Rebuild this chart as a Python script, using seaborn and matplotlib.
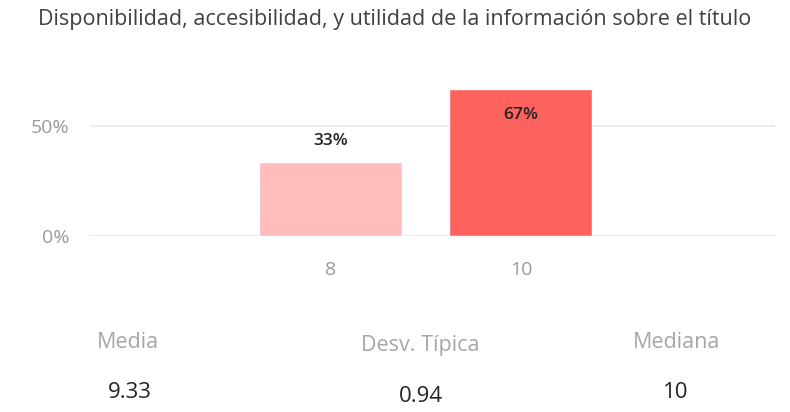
import matplotlib
matplotlib.use("Agg")
import matplotlib.pyplot as plt
import seaborn as sns
import pandas as pd
from matplotlib.ticker import PercentFormatter

# data
categories = ['8', '10']
shares = [0.336, 0.668]
bar_colors = ['#FFBCBC', '#FD625E']
value_labels = ['33%', '67%']

stat_names = ['Media', 'Desv. Típica', 'Mediana']
stat_values = ['9.33', '0.94', '10']

df = pd.DataFrame({'cat': categories, 'share': shares})

sns.set_theme(style="white")
plt.rcParams['font.family'] = ['Open Sans', 'DejaVu Sans']

fig = plt.figure(figsize=(7.9, 4.12), dpi=100)
ax = fig.add_axes([90 / 790, 1 - 236 / 412, 685 / 790, 166 / 412])

sns.barplot(data=df, x='cat', y='share', hue='cat', order=categories,
            palette=bar_colors, legend=False, width=0.753, saturation=1, ax=ax)

ax.set_xlim(-1.268, 2.337)
ax.set_ylim(0, 0.7545)
ax.set_yticks([0, 0.5])
ax.yaxis.set_major_formatter(PercentFormatter(1.0, decimals=0))
ax.grid(axis='y', color='#E9E9E9', linewidth=1.2)
ax.set_axisbelow(True)
for s in ax.spines.values():
    s.set_visible(False)
ax.set_xlabel('')
ax.set_ylabel('')
ax.tick_params(axis='y', colors='#999999', labelsize=14, length=0, pad=15)
ax.tick_params(axis='x', colors='#999999', labelsize=14, length=0, pad=18)

# data labels: above the short bar, inside the tall one
for i, (v, lab) in enumerate(zip(shares, value_labels)):
    off = -19 if v > 0.5 else 15
    ax.annotate(lab, (i, v), xytext=(0, off), textcoords='offset points',
                ha='center', va='center', fontsize=12.5,
                color='#252423', fontweight='semibold')

fig.text(395 / 790, 1 - 19 / 412, 'Disponibilidad, accesibilidad, y utilidad de la información sobre el título',
         ha='center', va='center', fontsize=15.5, color='#404040')

# card stats under the chart
name_pos = [(128, 342), (420, 345), (677, 342)]
value_pos = [(130, 393), (421, 397), (676, 393)]
for name, (x, y) in zip(stat_names, name_pos):
    fig.text(x / 790, 1 - y / 412, name, ha='center', va='center', fontsize=15.5, color='#A6A6A6')
for val, (x, y) in zip(stat_values, value_pos):
    fig.text(x / 790, 1 - y / 412, val, ha='center', va='center', fontsize=16, color='#252423')

fig.savefig('out.png', dpi=100)
